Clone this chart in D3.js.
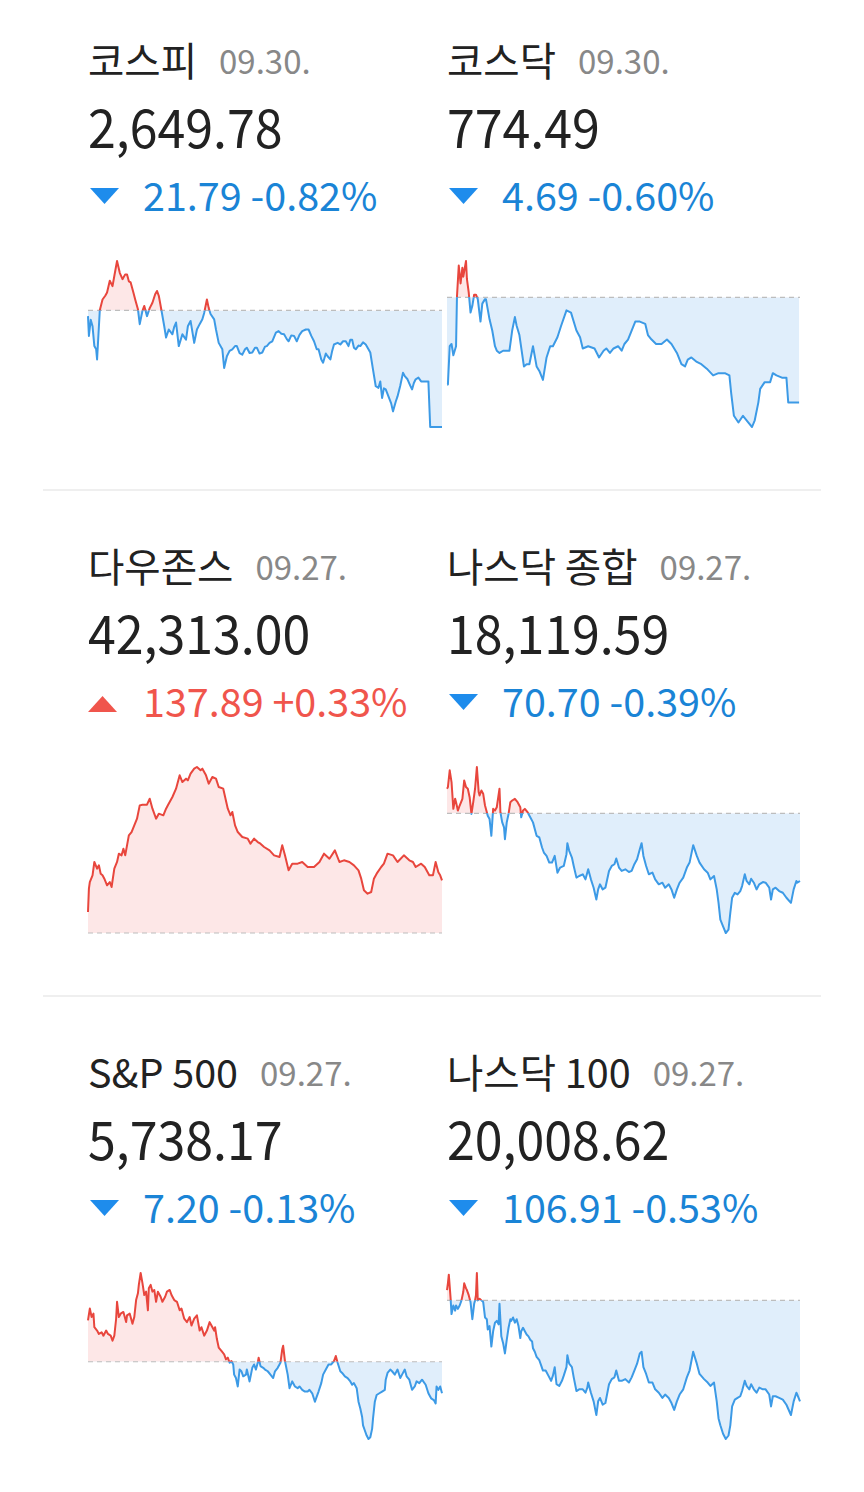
<!DOCTYPE html>
<html><head><meta charset="utf-8">
<script src="https://cdn.jsdelivr.net/npm/d3@7"></script>
<style>
html,body{margin:0;padding:0;background:#fff;}
text{font-family:"Noto Sans CJK KR","Noto Sans",sans-serif;}
</style></head>
<body><svg id="chart" width="864" height="1492"></svg>
<script>
const titles = ["코스피", "코스닥", "다우존스", "나스닥 종합", "S&P 500", "나스닥 100"];
const dates = ["09.30.", "09.30.", "09.27.", "09.27.", "09.27.", "09.27."];
const closes = [2649.78, 774.49, 42313.00, 18119.59, 5738.17, 20008.62];
const changes = [-21.79, -4.69, 137.89, -70.70, -7.20, -106.91];
const changePcts = [-0.82, -0.60, 0.33, -0.39, -0.13, -0.53];

// [minutes since open, index level]
const kospi = [[0,2670.5],[1,2666.8],[3,2669.8],[5,2668.6],[7,2664.9],[9,2664.3],[10,2662.4],[13,2671.6],[16,2673.6],[19,2674.3],[21,2674.9],[24,2677.1],[27,2676.1],[29,2678.0],[32,2680.8],[35,2678.6],[38,2677.4],[41,2678.3],[43,2678.3],[45,2677.0],[47,2676.8],[50,2674.9],[52,2673.6],[55,2671.8],[57,2669.0],[60,2671.5],[62,2672.4],[65,2670.5],[68,2672.0],[71,2673.0],[74,2674.6],[76,2675.2],[78,2674.3],[81,2671.5],[84,2668.6],[86,2666.5],[89,2668.0],[93,2667.1],[95,2668.5],[97,2669.3],[100,2664.9],[104,2667.1],[108,2666.1],[110,2668.6],[113,2669.6],[117,2665.5],[120,2668.0],[123,2669.0],[126,2669.9],[128,2671.1],[131,2673.6],[133,2672.0],[135,2670.9],[139,2669.9],[141,2668.0],[144,2665.5],[148,2664.3],[150,2660.8],[153,2663.0],[156,2664.0],[159,2664.3],[162,2664.9],[164,2664.9],[167,2663.6],[170,2663.3],[173,2664.3],[175,2664.6],[178,2663.6],[181,2663.7],[184,2664.6],[186,2664.6],[189,2663.5],[192,2663.7],[195,2664.8],[197,2664.9],[200,2665.5],[203,2665.8],[207,2667.4],[210,2667.7],[213,2667.2],[216,2667.1],[219,2666.2],[221,2665.8],[224,2666.9],[227,2666.8],[230,2665.8],[233,2667.0],[236,2667.7],[240,2668.0],[243,2668.0],[246,2666.8],[249,2665.8],[252,2664.3],[254,2664.3],[257,2662.4],[259,2661.8],[262,2663.5],[264,2663.0],[267,2662.4],[269,2664.0],[271,2665.2],[275,2665.5],[278,2665.2],[281,2665.8],[284,2665.8],[287,2664.9],[289,2666.1],[291,2666.1],[293,2664.6],[295,2664.3],[298,2665.0],[300,2664.9],[303,2665.6],[306,2665.2],[309,2664.3],[311,2663.7],[314,2660.5],[317,2657.4],[320,2657.1],[322,2658.3],[324,2655.2],[326,2657.0],[328,2656.8],[331,2655.5],[334,2654.2],[336,2652.7],[339,2654.5],[341,2655.5],[344,2657.5],[347,2659.9],[349,2659.3],[352,2658.7],[355,2657.5],[357,2656.8],[359,2658.0],[361,2658.7],[364,2659.0],[367,2658.3],[370,2658.3],[375,2658.3],[377,2649.78],[390,2649.78]];

const kosdaq = [[0,775.3],[1,775.3],[3,777.0],[5,777.1],[7,776.6],[10,777.0],[11,779.2],[13,780.6],[15,779.8],[17,780.5],[18,780.1],[21,780.8],[22,780.0],[24,779.4],[26,778.5],[28,778.8],[30,779.3],[32,779.3],[34,779.1],[37,778.1],[39,778.9],[42,779.1],[43,779.1],[47,778.2],[50,777.7],[53,777.0],[55,776.8],[58,776.7],[62,776.8],[66,776.8],[69,776.8],[72,777.7],[75,778.3],[77,777.9],[80,777.5],[85,776.1],[88,776.2],[91,776.2],[95,777.0],[99,776.1],[102,775.9],[106,775.5],[110,776.5],[114,777.0],[117,777.0],[122,777.4],[126,777.9],[132,778.6],[137,778.5],[143,777.7],[147,777.4],[150,776.9],[156,777.0],[163,776.9],[168,776.5],[173,776.8],[176,776.9],[180,776.7],[184,776.9],[189,777.0],[193,776.8],[196,777.1],[200,777.3],[204,777.7],[208,778.1],[213,778.1],[219,778.0],[222,777.5],[226,777.3],[231,777.1],[237,777.1],[243,777.3],[248,777.1],[254,776.7],[259,776.2],[263,776.1],[266,776.4],[270,776.5],[276,776.3],[281,776.2],[287,776.0],[294,775.7],[300,775.8],[307,775.8],[312,775.7],[314,774.9],[317,773.9],[322,773.6],[327,773.9],[333,773.6],[337,773.4],[340,773.7],[344,774.5],[346,775.1],[351,775.4],[357,775.4],[360,775.8],[364,775.7],[370,775.6],[375,775.6],[377,774.49],[389,774.49]];

const dow = [[0,42230.1],[1,42291.2],[2,42308.6],[5,42326.1],[7,42361.0],[10,42343.5],[12,42352.3],[14,42330.0],[16,42326.1],[18,42317.4],[21,42299.9],[24,42308.6],[26,42295.5],[29,42343.5],[32,42361.0],[34,42382.8],[37,42378.4],[39,42395.9],[41,42378.4],[45,42430.8],[48,42439.5],[51,42457.0],[54,42474.4],[57,42509.3],[60,42511.1],[62,42511.1],[65,42511.1],[68,42526.8],[71,42500.6],[75,42474.4],[78,42487.5],[83,42483.2],[86,42500.6],[88,42509.3],[93,42531.2],[97,42553.0],[101,42587.9],[104,42570.4],[108,42579.2],[110,42574.8],[113,42592.3],[117,42605.3],[120,42609.7],[124,42601.0],[126,42605.3],[130,42587.9],[133,42566.1],[137,42583.5],[141,42579.2],[144,42557.3],[149,42553.0],[154,42500.6],[157,42483.2],[159,42491.9],[162,42457.0],[165,42439.5],[170,42426.4],[176,42422.1],[179,42409.0],[183,42422.1],[187,42413.3],[190,42409.0],[194,42400.3],[200,42391.5],[205,42378.4],[211,42374.1],[214,42404.6],[217,42378.4],[221,42339.2],[225,42356.6],[231,42356.6],[236,42361.0],[242,42347.9],[246,42347.9],[249,42347.9],[255,42361.0],[260,42382.8],[266,42369.7],[272,42391.5],[277,42361.0],[282,42365.4],[288,42361.0],[293,42352.3],[298,42339.2],[301,42317.4],[304,42286.8],[308,42278.1],[312,42282.4],[315,42317.4],[318,42330.4],[323,42347.9],[326,42356.6],[330,42382.8],[336,42378.4],[341,42361.0],[348,42378.4],[354,42365.4],[358,42361.0],[361,42347.9],[367,42356.6],[371,42347.9],[376,42326.1],[380,42326.1],[383,42361.0],[386,42334.0],[388,42326.1],[390,42313.00]];

const nasdaq = [[0,18215.9],[1,18217.6],[3,18235.1],[5,18222.9],[7,18194.9],[9,18205.4],[10,18201.9],[12,18193.1],[14,18198.4],[17,18205.4],[19,18224.6],[21,18217.6],[23,18215.9],[25,18207.1],[27,18189.6],[29,18201.9],[31,18215.9],[33,18238.6],[35,18212.4],[36,18208.9],[38,18214.1],[40,18210.6],[42,18198.4],[44,18191.4],[45,18187.8],[47,18184.3],[49,18166.8],[51,18194.9],[53,18193.1],[55,18196.6],[58,18215.9],[59,18191.4],[61,18180.8],[63,18175.6],[64,18163.3],[66,18180.8],[68,18189.6],[70,18201.9],[72,18203.6],[75,18205.4],[78,18201.9],[81,18196.6],[82,18186.1],[84,18193.1],[86,18194.9],[89,18191.4],[92,18186.1],[95,18180.8],[99,18166.8],[102,18165.1],[105,18154.6],[107,18149.3],[110,18145.8],[113,18138.8],[116,18138.8],[119,18145.8],[122,18128.3],[125,18133.6],[129,18135.3],[132,18147.6],[133,18159.1],[135,18151.1],[138,18144.1],[140,18135.3],[143,18123.1],[146,18124.8],[150,18126.6],[153,18121.3],[156,18131.8],[159,18121.3],[162,18112.6],[165,18100.3],[167,18110.8],[169,18116.1],[172,18110.8],[175,18112.6],[179,18130.1],[182,18135.3],[185,18137.1],[187,18143.0],[190,18133.6],[193,18130.1],[197,18131.8],[201,18129.0],[204,18130.1],[207,18137.1],[210,18142.3],[213,18152.8],[215,18159.1],[217,18145.8],[220,18135.3],[223,18126.6],[227,18128.3],[230,18121.3],[234,18116.1],[238,18117.8],[241,18112.6],[245,18116.1],[248,18110.8],[251,18102.1],[254,18110.8],[257,18117.8],[261,18123.1],[265,18133.6],[268,18138.8],[272,18157.0],[276,18145.8],[279,18138.8],[284,18131.8],[288,18128.3],[291,18121.3],[295,18124.8],[298,18110.8],[300,18096.8],[302,18079.3],[305,18072.3],[308,18065.3],[311,18068.8],[313,18086.3],[315,18102.1],[318,18107.3],[321,18105.6],[324,18109.1],[326,18114.3],[329,18126.6],[331,18119.6],[334,18116.1],[336,18122.0],[339,18117.8],[342,18110.8],[345,18116.1],[349,18118.5],[352,18117.8],[356,18112.6],[358,18100.3],[360,18110.8],[363,18112.6],[367,18109.1],[371,18107.3],[375,18102.1],[380,18096.8],[383,18110.8],[386,18119.6],[387,18117.8],[390,18119.59]];

const sp500 = [[0,5754.81],[2,5757.52],[4,5755.59],[6,5756.36],[7,5753.26],[10,5752.49],[12,5751.72],[15,5752.10],[17,5751.33],[20,5752.49],[22,5751.72],[25,5751.33],[27,5750.17],[29,5751.33],[31,5755.20],[32,5759.07],[34,5755.59],[36,5756.36],[39,5756.75],[42,5754.43],[43,5755.97],[46,5756.36],[49,5754.04],[51,5755.59],[53,5759.46],[55,5761.00],[56,5762.94],[58,5765.65],[60,5763.33],[62,5760.62],[64,5761.39],[66,5757.13],[67,5762.17],[69,5762.94],[71,5761.39],[73,5761.78],[75,5759.07],[77,5761.39],[80,5760.23],[82,5759.07],[85,5760.23],[87,5761.39],[90,5761.78],[92,5760.62],[95,5759.46],[98,5759.07],[101,5757.13],[103,5757.52],[106,5755.20],[109,5754.43],[112,5755.59],[114,5753.65],[117,5755.20],[120,5755.97],[123,5752.49],[125,5753.26],[128,5751.33],[131,5752.49],[134,5754.43],[136,5753.65],[139,5752.49],[140,5753.26],[142,5750.56],[144,5748.62],[147,5747.85],[150,5747.07],[152,5745.91],[154,5746.30],[156,5745.14],[158,5745.52],[160,5744.75],[161,5742.43],[163,5741.65],[165,5739.72],[167,5743.59],[169,5743.20],[171,5742.04],[174,5742.43],[175,5743.59],[178,5740.88],[181,5743.98],[183,5744.75],[185,5743.59],[187,5745.14],[188,5746.30],[190,5744.37],[193,5743.98],[195,5743.59],[198,5743.20],[201,5742.43],[204,5741.65],[206,5743.20],[209,5743.98],[212,5745.14],[214,5748.23],[215,5749.01],[217,5745.52],[220,5742.43],[222,5739.33],[225,5740.88],[228,5739.72],[231,5739.33],[233,5739.72],[236,5738.95],[239,5738.56],[242,5738.56],[244,5738.95],[247,5738.17],[250,5736.24],[252,5737.40],[254,5738.56],[257,5740.49],[259,5742.43],[262,5743.59],[265,5744.75],[268,5744.75],[271,5745.52],[273,5746.69],[275,5745.14],[278,5743.20],[280,5742.82],[283,5742.04],[286,5741.65],[289,5740.88],[291,5740.11],[293,5740.49],[296,5739.33],[298,5736.24],[300,5734.69],[302,5732.75],[303,5730.82],[305,5729.66],[307,5728.50],[309,5727.72],[311,5728.11],[313,5730.04],[314,5732.37],[316,5736.24],[318,5737.78],[321,5738.17],[324,5738.56],[327,5738.95],[328,5741.27],[330,5742.82],[333,5743.59],[335,5743.20],[338,5742.43],[341,5743.59],[344,5741.65],[346,5742.43],[349,5743.59],[351,5742.04],[354,5741.27],[357,5738.95],[360,5739.72],[362,5740.88],[365,5740.49],[368,5741.27],[372,5740.11],[375,5738.17],[378,5737.01],[381,5736.62],[383,5735.85],[384,5739.72],[386,5738.95],[388,5739.72],[390,5738.17]];

const nasdaq100 = [[0,20126.4],[1,20133.6],[2,20142.7],[4,20117.3],[5,20101.0],[7,20110.1],[9,20104.6],[10,20110.1],[12,20106.5],[14,20110.1],[16,20115.5],[18,20124.6],[19,20133.6],[21,20128.2],[22,20126.4],[24,20121.0],[26,20113.7],[28,20095.6],[30,20111.9],[31,20115.5],[32,20121.0],[33,20144.5],[34,20115.5],[36,20117.3],[38,20115.5],[40,20113.7],[42,20097.4],[44,20095.6],[45,20084.7],[47,20088.3],[49,20066.6],[51,20082.9],[53,20091.9],[55,20093.8],[57,20090.1],[58,20111.9],[60,20077.4],[62,20070.2],[64,20059.3],[66,20073.8],[68,20086.5],[70,20095.6],[71,20093.8],[73,20097.4],[75,20091.9],[77,20095.6],[79,20088.3],[81,20075.6],[82,20082.9],[84,20086.5],[86,20082.9],[88,20079.3],[90,20077.4],[92,20073.8],[94,20072.0],[95,20064.8],[97,20061.1],[99,20055.7],[102,20052.1],[104,20046.6],[106,20041.2],[109,20041.2],[112,20035.8],[115,20030.3],[117,20035.8],[119,20044.8],[121,20026.7],[124,20024.9],[127,20030.3],[129,20035.8],[132,20044.8],[133,20057.5],[135,20048.5],[138,20044.8],[140,20034.0],[143,20019.5],[146,20021.3],[150,20021.3],[153,20017.7],[155,20023.1],[156,20028.5],[159,20017.7],[162,20008.6],[165,19994.1],[167,20008.6],[169,20012.2],[172,20005.0],[175,20006.8],[179,20026.7],[182,20032.1],[185,20034.0],[187,20041.2],[190,20030.3],[193,20030.3],[197,20032.1],[201,20028.5],[204,20034.0],[207,20041.2],[210,20048.5],[213,20059.3],[215,20061.1],[217,20044.8],[220,20037.6],[223,20028.5],[227,20028.5],[230,20021.3],[234,20017.7],[238,20012.2],[241,20015.8],[245,20012.2],[248,20006.8],[251,19999.5],[254,20008.6],[257,20015.8],[261,20021.3],[265,20034.0],[268,20041.2],[272,20061.1],[276,20048.5],[279,20037.6],[284,20032.1],[288,20028.5],[291,20024.9],[295,20028.5],[298,20008.6],[300,19990.5],[302,19983.2],[305,19974.2],[308,19968.7],[311,19972.4],[313,19983.2],[315,20003.2],[318,20010.4],[321,20012.2],[324,20014.0],[326,20019.5],[329,20030.3],[331,20024.9],[334,20021.3],[336,20026.7],[339,20021.3],[342,20017.7],[345,20023.1],[349,20021.3],[352,20021.3],[356,20015.8],[358,20003.2],[360,20014.0],[363,20014.0],[367,20012.2],[371,20010.4],[375,20005.0],[380,19994.1],[383,20008.6],[386,20017.7],[387,20015.8],[390,20008.62]];

const seriesList = [kospi, kosdaq, dow, nasdaq, sp500, nasdaq100];
const sessionMinutes = [0, 390];

// ---------- drawing ----------
const svg = d3.select("#chart");
const UP_LINE = "#e8463d", DOWN_LINE = "#3c9ae6";
const UP_FILL = "#fde7e7", DOWN_FILL = "#e0eefb";
const UP_TEXT = "#f0554c", DOWN_TEXT = "#1a84d6", DOWN_TRI = "#1e8cec";
const colX = [88, 447], colW = [354, 353];
const rowTop = [0, 506, 1012];
const fmtVal = d3.format(",.2f");

// dividers
[490, 996].forEach(y => svg.append("rect").attr("x", 43).attr("y", y - 1).attr("width", 778).attr("height", 2).attr("fill", "#efefef"));

seriesList.forEach((data, i) => {
  const col = i % 2, row = Math.floor(i / 2);
  const x0 = colX[col], w = colW[col], top = rowTop[row];
  const g = svg.append("g");
  const close = closes[i], chg = changes[i], pct = changePcts[i];
  const prev = close - chg;
  const up = chg >= 0;

  // title + date
  const t = g.append("text").attr("x", x0).attr("y", top + 76)
    .attr("font-size", 39.5).attr("fill", "#222").text(titles[i]);
  const tw = t.node().getComputedTextLength();
  g.append("text").attr("x", x0 + tw + 22).attr("y", top + 74)
    .attr("font-size", 33).attr("fill", "#888").text(dates[i]);

  // value (slightly condensed like the reference face)
  g.append("text").attr("transform", `translate(${x0},${top + 148}) scale(0.945,1)`)
    .attr("font-size", 53).attr("fill", "#222").text(fmtVal(close));

  // change
  const tri = up ? `M${x0},${top+206} L${x0+29},${top+206} L${x0+14.5},${top+190} Z`
                 : `M${x0+2},${top+188} L${x0+31},${top+188} L${x0+16.5},${top+204} Z`;
  g.append("path").attr("d", tri).attr("fill", up ? UP_TEXT : DOWN_TRI);
  g.append("text").attr("x", x0 + 55).attr("y", top + 211)
    .attr("font-size", 39.5).attr("fill", up ? UP_TEXT : DOWN_TEXT)
    .text(`${fmtVal(Math.abs(chg))} ${pct > 0 ? "+" : ""}${pct.toFixed(2)}%`);

  // sparkline
  const py0 = top + 261, py1 = top + 427;
  const vals = data.map(d => d[1]).concat([prev]);
  const x = d3.scaleLinear().domain(sessionMinutes).range([x0, x0 + w]);
  const y = d3.scaleLinear().domain([d3.min(vals), d3.max(vals)]).range([py1, py0]);
  const by = y(prev);

  const defs = g.append("defs");
  defs.append("clipPath").attr("id", "ca" + i).append("rect")
    .attr("x", x0 - 5).attr("y", py0 - 10).attr("width", w + 10).attr("height", by - py0 + 10);
  defs.append("clipPath").attr("id", "cb" + i).append("rect")
    .attr("x", x0 - 5).attr("y", by).attr("width", w + 10).attr("height", py1 - by + 10);

  const area = d3.area().x(d => x(d[0])).y0(by).y1(d => y(d[1]));
  const line = d3.line().x(d => x(d[0])).y(d => y(d[1]));

  g.append("path").datum(data).attr("d", area).attr("fill", UP_FILL).attr("clip-path", `url(#ca${i})`);
  g.append("path").datum(data).attr("d", area).attr("fill", DOWN_FILL).attr("clip-path", `url(#cb${i})`);

  g.append("line").attr("x1", x0).attr("x2", x0 + w).attr("y1", by).attr("y2", by)
    .attr("stroke", "#bdbdbd").attr("stroke-width", 1.2).attr("stroke-dasharray", "5,4");

  g.append("path").datum(data).attr("d", line).attr("fill", "none").attr("stroke", UP_LINE)
    .attr("stroke-width", 2).attr("stroke-linejoin", "round").attr("clip-path", `url(#ca${i})`);
  g.append("path").datum(data).attr("d", line).attr("fill", "none").attr("stroke", DOWN_LINE)
    .attr("stroke-width", 2).attr("stroke-linejoin", "round").attr("clip-path", `url(#cb${i})`);
});
</script>
</body></html>
